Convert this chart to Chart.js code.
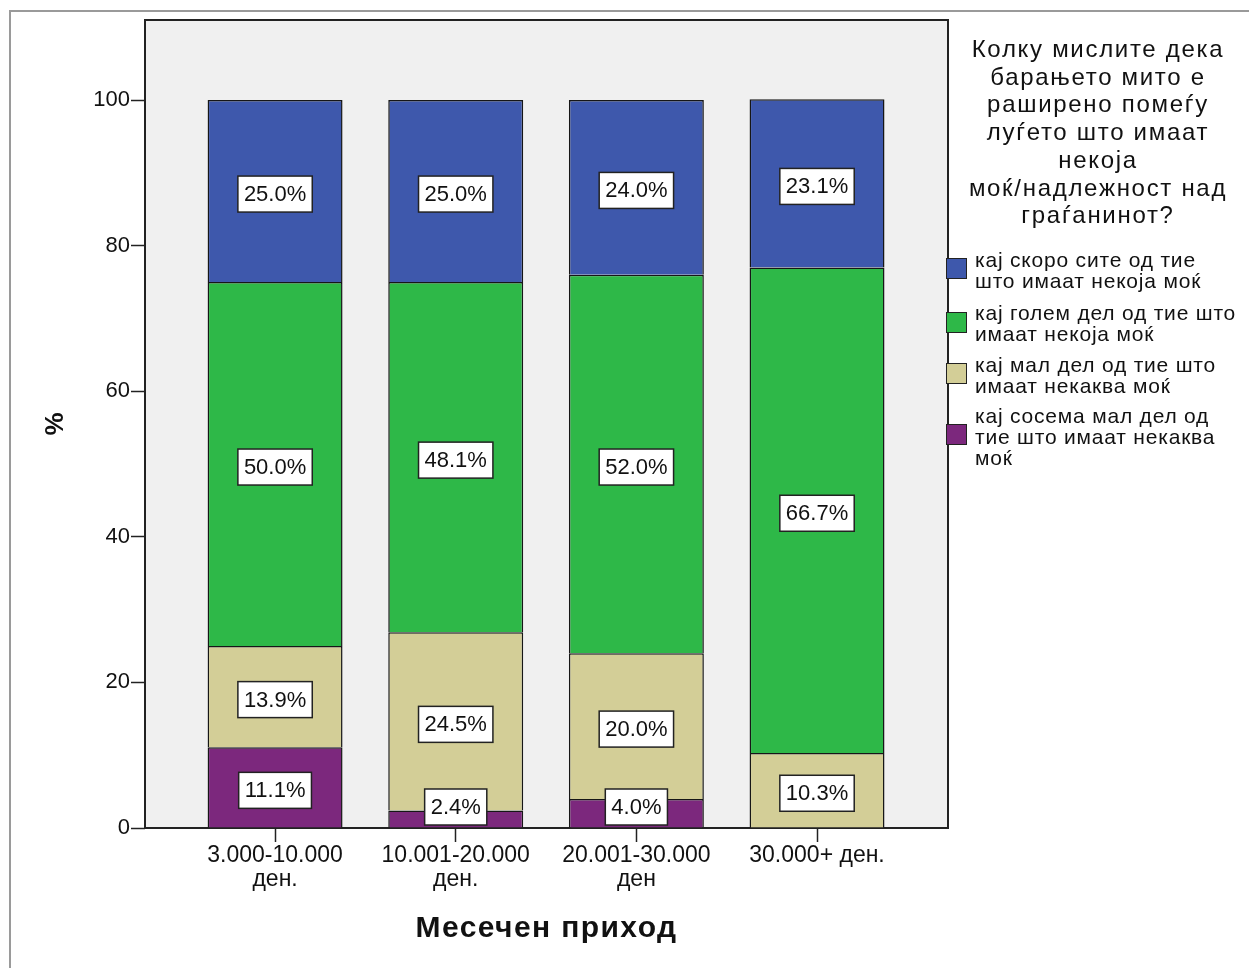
<!DOCTYPE html>
<html>
<head>
<meta charset="utf-8">
<script src="https://cdn.jsdelivr.net/npm/chart.js@4/dist/chart.umd.min.js"></script>
<style>
    body { margin: 0; background: #fff; }
    #wrap { position: relative; width: 1249px; height: 968px; overflow: hidden; font-family: "Liberation Sans", Arial, sans-serif; color: #111; }
    #frame { position: absolute; left: 9px; top: 10px; width: 1300px; height: 1000px; border-left: 2px solid #9a9a9a; border-top: 2px solid #9a9a9a; }
    #legendTitle { position: absolute; left: 952px; top: 35px; width: 292px; text-align: center; font-size: 24px; line-height: 27.7px; letter-spacing: 1.7px; white-space: nowrap; }
    .sw { position: absolute; left: 946px; width: 19px; height: 19px; border: 1px solid #222; }
    .txt { position: absolute; left: 975px; font-size: 21px; line-height: 21px; letter-spacing: 0.8px; white-space: nowrap; }
    #xTitle { position: absolute; left: 145px; top: 910px; width: 803px; text-align: center; font-size: 30px; line-height: 34px; font-weight: bold; letter-spacing: 1.4px; }
</style>
</head>
<body>
<div id="wrap">
    <canvas id="chart" width="1249" height="968"></canvas>
    <div id="frame"></div>
    <div id="legendTitle">Колку мислите дека<br>барањето мито е<br>раширено помеѓу<br>луѓето што имаат<br>некоја<br>моќ/надлежност над<br>граѓанинот?</div>
    <div id="legend"></div>
    <div id="xTitle">Месечен приход</div>
</div>
<script>
const categories = ['3.000-10.000 ден.', '10.001-20.000 ден.', '20.001-30.000 ден', '30.000+ ден.'];
const tickLabels = [['3.000-10.000', 'ден.'], ['10.001-20.000', 'ден.'], ['20.001-30.000', 'ден'], ['30.000+ ден.']];
const seriesNames = [
    ['кај скоро сите од тие', 'што имаат некоја моќ'],
    ['кај голем дел од тие што', 'имаат некоја моќ'],
    ['кај мал дел од тие што', 'имаат некаква моќ'],
    ['кај сосема мал дел од', 'тие што имаат некаква', 'моќ']
];
const nearlyAll = [25.0, 25.0, 24.0, 23.1];
const largePart = [50.0, 48.1, 52.0, 66.7];
const smallPart = [13.9, 24.5, 20.0, 10.3];
const verySmall = [11.1, 2.4, 4.0, 0];
const yTicks = [0, 20, 40, 60, 80, 100];
const colors = ['#3e58ac', '#2eb848', '#d3ce97', '#7c287d'];

// legend (html)
const textTops = [249, 302, 354, 405];
const swatchTops = [258, 312, 363, 424];
const legend = document.getElementById('legend');
seriesNames.forEach(function(lines, i) {
    let sw = document.createElement('div');
    sw.className = 'sw';
    sw.style.top = swatchTops[i] + 'px';
    sw.style.background = colors[i];
    legend.appendChild(sw);
    let t = document.createElement('div');
    t.className = 'txt';
    t.style.top = textTops[i] + 'px';
    t.innerHTML = lines.join('<br>');
    legend.appendChild(t);
});

// plot background and frame
const framePlugin = {
    id: 'frame',
    beforeDatasetsDraw(chart) {
        const a = chart.chartArea, ctx = chart.ctx;
        ctx.save();
        ctx.fillStyle = '#f0f0f0';
        ctx.fillRect(a.left, a.top, a.right - a.left, a.bottom - a.top);
        ctx.strokeStyle = '#222';
        ctx.lineWidth = 2;
        ctx.strokeRect(a.left, a.top, a.right - a.left, a.bottom - a.top);
        ctx.restore();
    }
};

// percentage boxes
const labelPlugin = {
    id: 'boxes',
    afterDatasetsDraw(chart) {
        const ctx = chart.ctx, bottom = chart.chartArea.bottom;
        ctx.save();
        ctx.font = '22px "Liberation Sans", Arial, sans-serif';
        ctx.textAlign = 'center';
        ctx.textBaseline = 'middle';
        chart.data.datasets.forEach(function(ds, di) {
            chart.getDatasetMeta(di).data.forEach(function(bar, i) {
                const v = ds.data[i].y;
                if (!v) return;
                const txt = v.toFixed(1) + '%';
                const w = ctx.measureText(txt).width + 12, h = 36;
                let cy = (bar.y + bar.base) / 2 + 3;
                if (cy + h / 2 > bottom - 3) cy = bottom - 3 - h / 2;
                ctx.fillStyle = '#fff';
                ctx.fillRect(bar.x - w / 2, cy - h / 2, w, h);
                ctx.strokeStyle = '#222';
                ctx.lineWidth = 1.5;
                ctx.strokeRect(bar.x - w / 2, cy - h / 2, w, h);
                ctx.fillStyle = '#111';
                ctx.fillText(txt, bar.x, cy + 1);
            });
        });
        ctx.restore();
    }
};

const series = [nearlyAll, largePart, smallPart, verySmall];
// stack order bottom-up: very small, small, large, nearly all
const datasets = [3, 2, 1, 0].map(function(k) {
    return {
        label: seriesNames[k].join(' '),
        data: series[k].map(function(v, i) { return { x: i, y: v }; }),
        backgroundColor: colors[k],
        borderColor: '#161616',
        borderWidth: 1.5,
        categoryPercentage: 1,
        barPercentage: 0.747
    };
});

new Chart(document.getElementById('chart'), {
    type: 'bar',
    data: { datasets: datasets },
    plugins: [framePlugin, labelPlugin],
    options: {
        responsive: false,
        animation: false,
        layout: { padding: { left: 0, top: 20, right: 301, bottom: 0 } },
        plugins: { legend: { display: false }, tooltip: { enabled: false } },
        scales: {
            x: {
                type: 'linear',
                stacked: true,
                offset: false,
                min: -0.72,
                max: 3.725,
                afterBuildTicks: function(scale) { scale.ticks = categories.map(function(c, i) { return { value: i }; }); },
                afterFit: function(scale) { scale.height = 140; },
                grid: { offset: false, drawOnChartArea: false, tickLength: 14, color: '#222', tickWidth: 1.5 },
                border: { display: false },
                ticks: {
                    color: '#111',
                    padding: 2,
                    maxRotation: 0,
                    autoSkip: false,
                    font: { family: '"Liberation Sans", Arial, sans-serif', size: 23, lineHeight: 1.04 },
                    callback: function(v) { return tickLabels[v]; }
                }
            },
            y: {
                stacked: true,
                min: 0,
                max: 111,
                afterBuildTicks: function(scale) { scale.ticks = yTicks.map(function(v) { return { value: v }; }); },
                afterFit: function(scale) { scale.width = 145; },
                grid: { drawOnChartArea: false, tickLength: 14, color: '#222', tickWidth: 1.5 },
                border: { display: false },
                ticks: {
                    color: '#111',
                    padding: 1,
                    font: { family: '"Liberation Sans", Arial, sans-serif', size: 22 }
                },
                title: {
                    display: true,
                    text: '%',
                    color: '#111',
                    font: { family: '"Liberation Sans", Arial, sans-serif', size: 26, weight: 'bold' },
                    padding: { top: 40, bottom: 0 }
                }
            }
        }
    }
});
</script>
</body>
</html>
